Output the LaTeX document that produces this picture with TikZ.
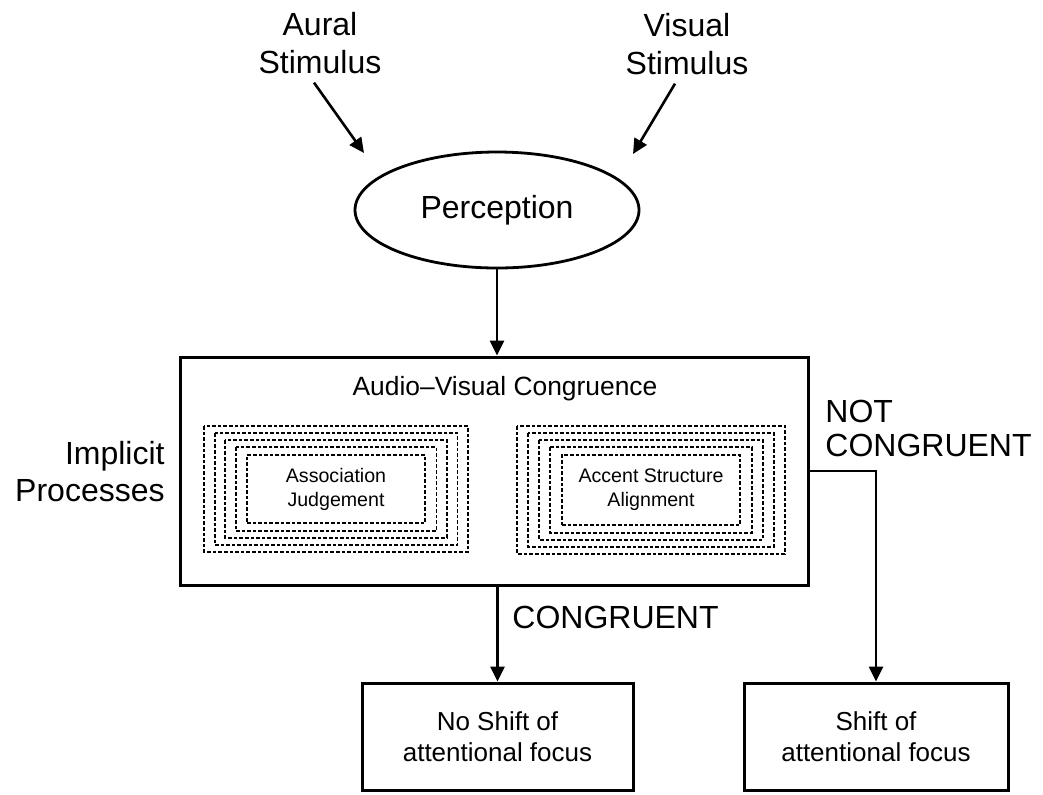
\documentclass[tikz,border=0pt]{standalone}
\usepackage{fontspec}
\setmainfont{Liberation Sans}
\usetikzlibrary{shapes,arrows.meta,positioning,calc}

\begin{document}
\begin{tikzpicture}[x=0.5pt,y=-0.5pt,
    label/.style={inner sep=0pt, align=center, font=\fontsize{16}{19}\selectfont},
    box/.style={draw, line width=1.5pt, inner sep=0pt},
    arr/.style={-{Triangle[length=7.5pt,width=7pt]}, line width=1.3pt},
    nest/.style={line width=0.85pt, dash pattern=on 1.8pt off 1pt}]
    \useasboundingbox (0,0) rectangle (1043,794);

    % Stimuli
    \node[label] (aural) at (320,43.5) {Aural\\Stimulus};
    \node[label] (visual) at (687,44.5) {Visual\\Stimulus};
    \coordinate (auralin) at (364,153);
    \coordinate (visualin) at (633,154);
    \draw[arr] ([shift={(-6,8)}]aural.south) -- (auralin);
    \draw[arr] ([shift={(-12,8)}]visual.south) -- (visualin);

    % Perception
    \node[draw, ellipse, line width=1.4pt, minimum width=142pt, minimum height=58pt,
          font=\fontsize{16}{19}\selectfont] (perc) at (497,210) {Perception};

    % Audio-visual congruence
    \node[box, minimum width=314pt, minimum height=114pt] (avc) at (494,471) {};
    \node[anchor=base, inner sep=0pt, font=\fontsize{13.2}{15}\selectfont] (avctitle) at (505,395) {Audio--Visual Congruence};
    \draw[arr] (perc.south) -- (perc.south |- avc.north);

    \node[nest, draw, minimum width=89pt, minimum height=34pt, align=center,
          font=\fontsize{9.8}{12}\selectfont] (assoc) at (336,489) {Association\\Judgement};
    \node[nest, draw, minimum width=89pt, minimum height=35pt, align=center,
          font=\fontsize{9.8}{12}\selectfont] (accent) at (651,490) {Accent Structure\\Alignment};
    \foreach \k in {1,...,4}{
        \draw[nest] ([shift={(-10.5*\k,-7*\k)}]assoc.north west) rectangle ([shift={(10.5*\k,7*\k)}]assoc.south east);
        \draw[nest] ([shift={(-11*\k,-7*\k)}]accent.north west) rectangle ([shift={(11*\k,7*\k)}]accent.south east);
    }

    \node[label, align=right, anchor=east, font=\fontsize{16}{18.5}\selectfont] (implicit) at (165,472) {Implicit\\Processes};

    % Outcomes
    \node[label, align=left, anchor=west, font=\fontsize{16}{17}\selectfont] (notcong) at (825,428.5) {NOT\\CONGRUENT};
    \node[label, anchor=base west] (cong) at (512,628) {CONGRUENT};

    \node[box, minimum width=135.5pt, minimum height=53.5pt, align=center,
          font=\fontsize{13}{15.5}\selectfont] (noshiftbox) at (497.5,736.5) {No Shift of\\attentional focus};
    \node[box, minimum width=132pt, minimum height=53.5pt, align=center,
          font=\fontsize{13}{15.5}\selectfont] (shiftbox) at (876,736.5) {Shift of\\attentional focus};

    \draw[arr] (avc.south -| noshiftbox.north) -- (noshiftbox.north);
    \draw[arr] (avc.east) -| (shiftbox.north);
\end{tikzpicture}
\end{document}
